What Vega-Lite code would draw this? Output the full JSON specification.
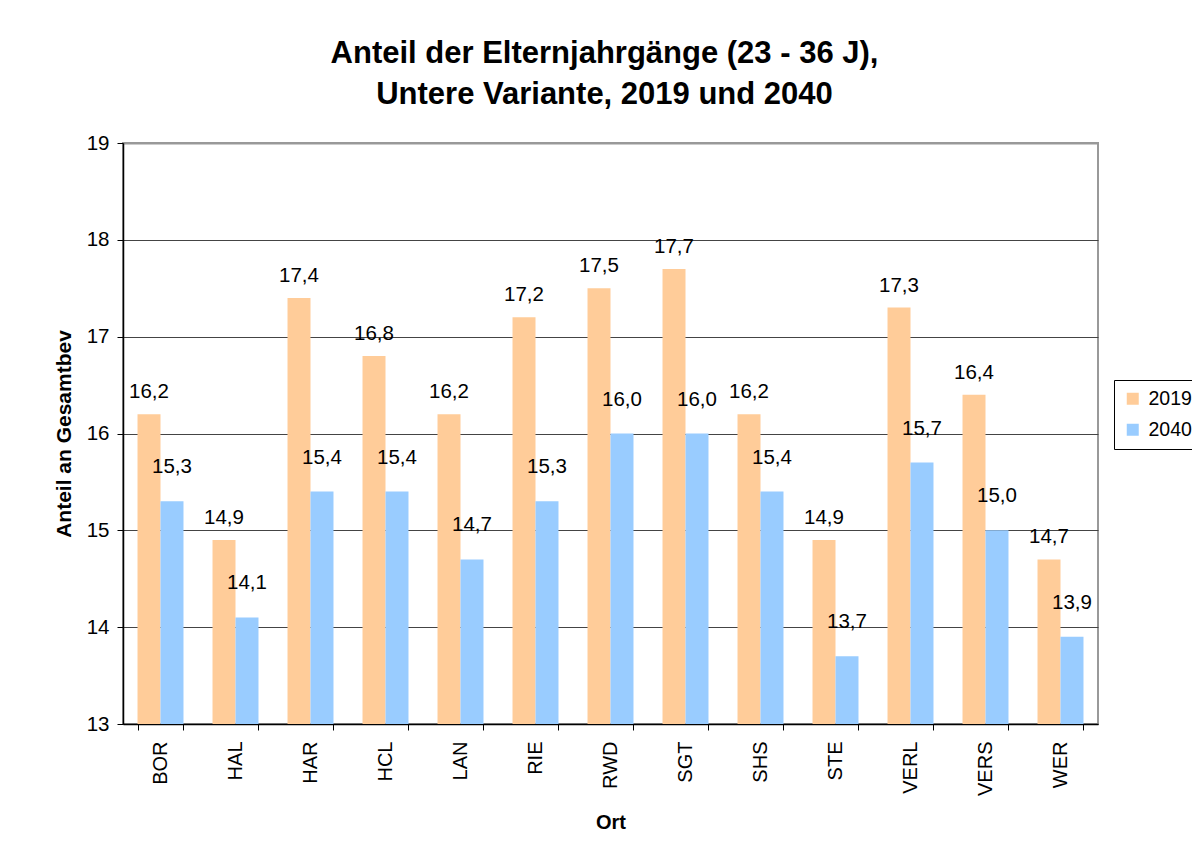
{
  "$schema": "https://vega.github.io/schema/vega-lite/v6.json",
  "width": 975,
  "height": 581,
  "autosize": {"type": "none"},
  "padding": {"left": 123, "top": 143, "right": 94, "bottom": 126},
  "background": "white",
  "title": {
    "text": ["Anteil der Elternjahrgänge (23 - 36 J),", "Untere Variante, 2019 und 2040"],
    "fontSize": 31,
    "fontWeight": "bold",
    "font": "Liberation Sans",
    "color": "black",
    "anchor": "middle",
    "lineHeight": 41,
    "offset": 22,
    "dx": -6
  },
  "config": {
    "locale": {"number": {"decimal": ",", "thousands": ".", "grouping": [3], "currency": ["", " €"]}},
    "font": "Liberation Sans",
    "view": {"stroke": "#999999", "strokeWidth": 2}
  },
  "data": {
    "values": [
      {"Ort": "BOR", "Jahr": "2019", "Wert": 16.2}, {"Ort": "BOR", "Jahr": "2040", "Wert": 15.3},
      {"Ort": "HAL", "Jahr": "2019", "Wert": 14.9}, {"Ort": "HAL", "Jahr": "2040", "Wert": 14.1},
      {"Ort": "HAR", "Jahr": "2019", "Wert": 17.4}, {"Ort": "HAR", "Jahr": "2040", "Wert": 15.4},
      {"Ort": "HCL", "Jahr": "2019", "Wert": 16.8}, {"Ort": "HCL", "Jahr": "2040", "Wert": 15.4},
      {"Ort": "LAN", "Jahr": "2019", "Wert": 16.2}, {"Ort": "LAN", "Jahr": "2040", "Wert": 14.7},
      {"Ort": "RIE", "Jahr": "2019", "Wert": 17.2}, {"Ort": "RIE", "Jahr": "2040", "Wert": 15.3},
      {"Ort": "RWD", "Jahr": "2019", "Wert": 17.5}, {"Ort": "RWD", "Jahr": "2040", "Wert": 16.0},
      {"Ort": "SGT", "Jahr": "2019", "Wert": 17.7}, {"Ort": "SGT", "Jahr": "2040", "Wert": 16.0},
      {"Ort": "SHS", "Jahr": "2019", "Wert": 16.2}, {"Ort": "SHS", "Jahr": "2040", "Wert": 15.4},
      {"Ort": "STE", "Jahr": "2019", "Wert": 14.9}, {"Ort": "STE", "Jahr": "2040", "Wert": 13.7},
      {"Ort": "VERL", "Jahr": "2019", "Wert": 17.3}, {"Ort": "VERL", "Jahr": "2040", "Wert": 15.7},
      {"Ort": "VERS", "Jahr": "2019", "Wert": 16.4}, {"Ort": "VERS", "Jahr": "2040", "Wert": 15.0},
      {"Ort": "WER", "Jahr": "2019", "Wert": 14.7}, {"Ort": "WER", "Jahr": "2040", "Wert": 13.9}
    ]
  },
  "encoding": {
    "x": {
      "field": "Ort",
      "type": "nominal",
      "sort": null,
      "scale": {"paddingInner": 0.387, "paddingOuter": 0.1935},
      "axis": {
        "title": "Ort",
        "titleFontSize": 20,
        "titleFontWeight": "bold",
        "titleColor": "black",
        "titlePadding": 17,
        "labelAngle": 270,
        "labelAlign": "right",
        "labelBaseline": "middle",
        "labelFontSize": 20,
        "labelColor": "black",
        "labelPadding": 11,
        "tickBand": "extent",
        "tickSize": 6,
        "tickColor": "black",
        "domainColor": "black",
        "domainWidth": 1.5,
        "grid": false
      }
    },
    "xOffset": {"field": "Jahr", "type": "nominal", "scale": {"domain": ["2019", "2040"], "paddingInner": 0, "paddingOuter": 0}},
    "y": {
      "field": "Wert",
      "type": "quantitative",
      "scale": {"domain": [13, 19], "zero": false, "nice": false},
      "axis": {
        "title": "Anteil an Gesamtbev",
        "titleFontSize": 21,
        "titleFontWeight": "bold",
        "titleColor": "black",
        "titlePadding": 12,
        "values": [13, 14, 15, 16, 17, 18, 19],
        "format": "d",
        "labelFontSize": 20.5,
        "labelColor": "black",
        "labelPadding": 8,
        "tickSize": 6,
        "tickColor": "black",
        "domainColor": "black",
        "domainWidth": 1.5,
        "grid": true,
        "gridColor": {"condition": {"test": "datum.value == 19", "value": "#999999"}, "value": "#444444"},
        "gridWidth": {"condition": {"test": "datum.value == 19", "value": 2}, "value": 1}
      }
    }
  },
  "layer": [
    {
      "mark": {"type": "bar", "clip": true},
      "encoding": {
        "color": {
          "field": "Jahr",
          "type": "nominal",
          "scale": {"domain": ["2019", "2040"], "range": ["#FFCC99", "#99CCFF"]},
          "legend": {
            "title": null,
            "orient": "none",
            "legendX": 991,
            "legendY": 237,
            "strokeColor": "black",
            "fillColor": "white",
            "padding": 9,
            "symbolType": "square",
            "symbolSize": 144,
            "symbolStrokeWidth": 0,
            "labelFontSize": 19.5,
            "labelColor": "black",
            "labelOffset": 6,
            "rowPadding": 10
          }
        }
      }
    },
    {
      "transform": [{"filter": "datum.Jahr == '2019'"}],
      "mark": {"type": "text", "baseline": "alphabetic", "dy": -16, "fontSize": 20.5, "color": "black"},
      "encoding": {"text": {"field": "Wert", "type": "quantitative", "format": ".1f"}}
    },
    {
      "transform": [{"filter": "datum.Jahr == '2040'"}],
      "mark": {"type": "text", "baseline": "alphabetic", "dy": -28, "fontSize": 20.5, "color": "black"},
      "encoding": {"text": {"field": "Wert", "type": "quantitative", "format": ".1f"}}
    }
  ]
}
